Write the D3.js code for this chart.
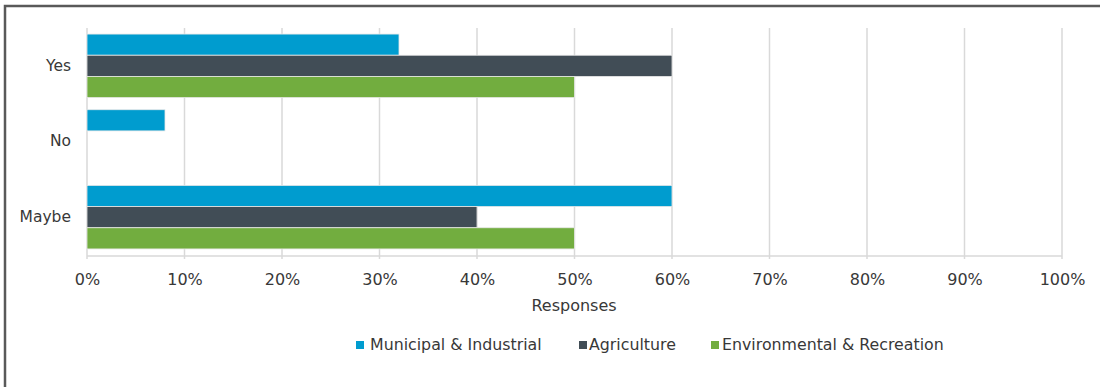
<!DOCTYPE html>
<html><head><meta charset="utf-8">
<script src="https://cdn.jsdelivr.net/npm/d3@7"></script>
<style>body{margin:0;background:#fff;} svg{display:block;font-family:"DejaVu Sans",Verdana,sans-serif;}</style>
</head><body>
<svg id="c" width="1100" height="387"></svg>
<script>
const categories = ["Yes", "No", "Maybe"];
const seriesNames = ["Municipal & Industrial", "Agriculture", "Environmental & Recreation"];
const municipal = [0.32, 0.08, 0.60];
const agriculture = [0.60, 0, 0.40];
const environmental = [0.50, 0, 0.50];
const ticks = [0,0.1,0.2,0.3,0.4,0.5,0.6,0.7,0.8,0.9,1.0];
const colors = ["#009CCF", "#414D56", "#72AD3F"];

const seriesVals = [municipal, agriculture, environmental];
const FONT = "DejaVu Sans, Verdana, sans-serif";
const TXT = "#383838";
const svg = d3.select("#c");
svg.append("rect").attr("x",5).attr("y",6).attr("width",1110).attr("height",400)
  .attr("fill","#fff").attr("stroke","#595959").attr("stroke-width",2.5);

const x = d3.scaleLinear().domain([0,1]).range([87,1062]);
const y = d3.scaleBand().domain(categories).range([28,255]).paddingInner(0.16).paddingOuter(0.08);
const y2 = d3.scaleBand().domain(seriesNames).range([0,y.bandwidth()]);

// gridlines
svg.append("g").selectAll("line").data(ticks).join("line")
  .attr("x1",d=>x(d)).attr("x2",d=>x(d)).attr("y1",28).attr("y2",259)
  .attr("stroke","#d9d9d9").attr("stroke-width",1.5);
svg.append("line").attr("x1",x(0)).attr("x2",x(1)).attr("y1",256).attr("y2",256)
  .attr("stroke","#d9d9d9").attr("stroke-width",1.5);

const g = svg.append("g");
categories.forEach((c,i)=>{
  seriesNames.forEach((s,j)=>{
    const v = seriesVals[j][i];
    if (v>0) g.append("rect").attr("x",x(0)).attr("y",y(c)+y2(s))
      .attr("width",x(v)-x(0)).attr("height",y2.bandwidth())
      .attr("fill",colors[j]).attr("stroke","#e8e8e8").attr("stroke-width",0.8);
  });
});

// axes
const xa = svg.append("g").attr("transform","translate(0,256)")
  .call(d3.axisBottom(x).tickValues(ticks).tickFormat(d3.format(".0%")).tickSize(0).tickPadding(18));
xa.select(".domain").remove();
xa.selectAll("text").attr("font-size",16).attr("fill",TXT).attr("font-family",FONT);

const ya = svg.append("g").attr("transform","translate(71,0)")
  .call(d3.axisLeft(y).tickSize(0).tickPadding(0));
ya.select(".domain").remove();
ya.selectAll("text").attr("font-size",15.5).attr("fill",TXT).attr("font-family",FONT);

svg.append("text").attr("x",574).attr("y",311).attr("text-anchor","middle")
  .attr("font-size",16).attr("fill",TXT).text("Responses");

// legend
const legSq = [356, 579, 711];
const legTx = [370, 589, 722];
seriesNames.forEach((s,j)=>{
  svg.append("rect").attr("x",legSq[j]).attr("y",341).attr("width",8).attr("height",8).attr("fill",colors[j]);
  svg.append("text").attr("x",legTx[j]).attr("y",350).attr("font-size",15.8).attr("fill",TXT).text(s);
});
</script>
</body></html>
